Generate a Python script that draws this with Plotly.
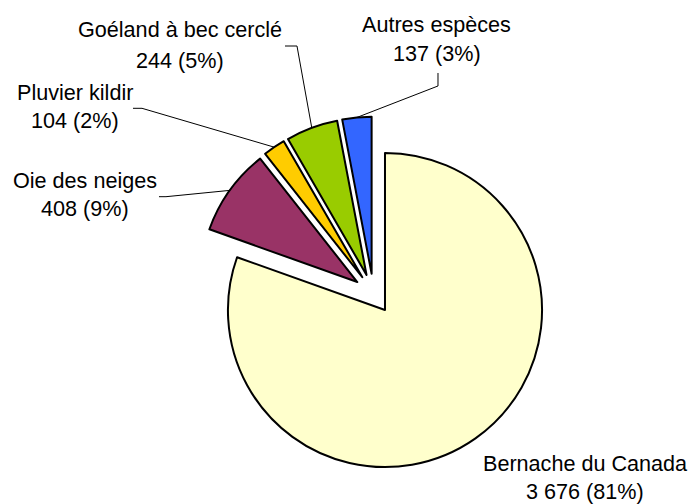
import math
import plotly.graph_objects as go

# ---- data ----
species = ["Bernache du Canada", "Oie des neiges", "Pluvier kildir",
           "Goéland à bec cerclé", "Autres espèces"]
counts = [3676, 408, 104, 244, 137]
pct_labels = [81, 9, 2, 5, 3]

# ---- styles / layout ----
colors = ["#FFFFCC", "#993366", "#FFCC00", "#99CC00", "#3366FF"]
W, H = 691, 504
CX, CY = 373.5, 293.7      # pie centre (px)
HALF = 177                 # half size of pie box (px)
PULL = 0.127
FONT = "Arial, 'Liberation Sans', sans-serif"
FS = 21.6

# label placement (px): centre x, line1 y, line2 y
label_pos = [(585, 463, 491.5), (85, 180, 208), (75, 92, 120.5),
             (180, 29, 60), (437, 24.5, 54)]
# leader line start points near labels (px); None = no leader
leader_start = [None,
                [(159, 196.7), (166, 196.7)],
                [(133, 108.3), (142, 108.3)],
                [(285, 46), (297, 46)],
                [(438, 73), (438, 86)]]

fig = go.Figure(go.Pie(
    labels=species, values=counts, sort=False, direction="clockwise",
    rotation=0, pull=[PULL] * len(counts), textinfo="none", hoverinfo="skip",
    marker=dict(colors=colors, line=dict(color="black", width=2)),
    domain=dict(x=[(CX - HALF) / W, (CX + HALF) / W],
                y=[1 - (CY + HALF) / H, 1 - (CY - HALF) / H]),
))

def px(x):
    return x / W

def py(y):
    return 1 - y / H

total = sum(counts)
r = HALF / (1 + PULL)
cum = 0.0
annotations = []
shapes = []
for i, v in enumerate(counts):
    frac = v / total
    mid = math.radians((cum + frac / 2) * 360)
    cum += frac
    ccx = CX + PULL * r * math.sin(mid)
    ccy = CY - PULL * r * math.cos(mid)
    ax = ccx + r * math.sin(mid)
    ay = ccy - r * math.cos(mid)
    lx, y1, y2 = label_pos[i]
    val = f"{v:,}".replace(",", " ")
    annotations.append(dict(x=px(lx), y=py(y1), xref="paper", yref="paper",
                            text=species[i], showarrow=False,
                            xanchor="center", yanchor="middle",
                            font=dict(family=FONT, size=FS, color="black")))
    annotations.append(dict(x=px(lx), y=py(y2), xref="paper", yref="paper",
                            text=f"{val} ({pct_labels[i]}%)", showarrow=False,
                            xanchor="center", yanchor="middle",
                            font=dict(family=FONT, size=FS, color="black")))
    if leader_start[i]:
        pts = leader_start[i] + [(ax, ay)]
        path = "M " + " L ".join(f"{px(a):.5f},{py(b):.5f}" for a, b in pts)
        shapes.append(dict(type="path", path=path, xref="paper", yref="paper",
                           line=dict(color="black", width=1)))

fig.update_layout(
    width=W, height=H, autosize=False,
    margin=dict(l=0, r=0, t=0, b=0),
    showlegend=False,
    paper_bgcolor="white", plot_bgcolor="white",
    annotations=annotations, shapes=shapes,
)

fig.write_html("out.html",
               config={"displayModeBar": False, "staticPlot": True},
               post_script="document.body.style.margin='0';"
                           "document.body.style.overflow='hidden';")
